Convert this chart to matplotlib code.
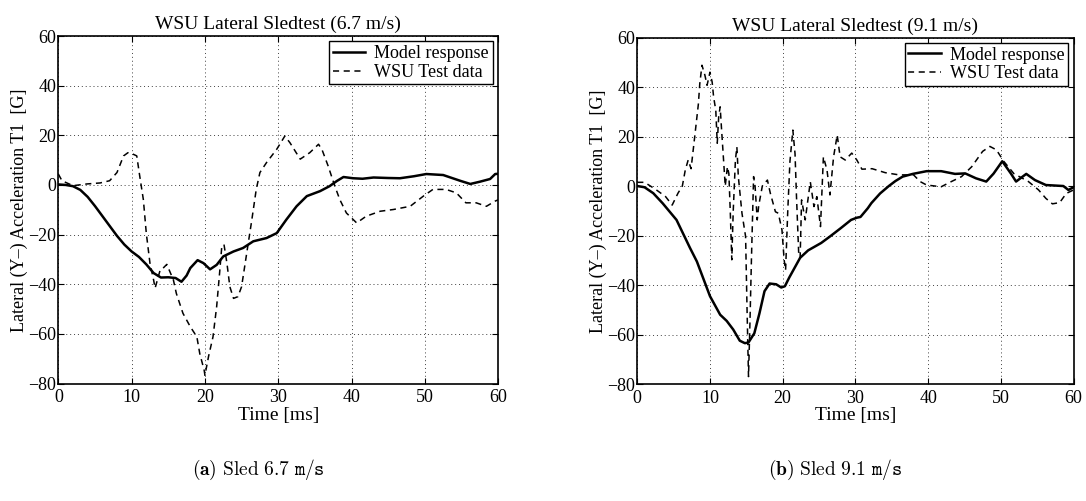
import matplotlib
matplotlib.use("Agg")
import matplotlib.pyplot as plt

# ---------------- data ----------------
t_a_model = [0, 1, 2, 3, 4, 5, 6, 7, 8, 9, 10, 11, 12, 13, 14, 15, 16, 16.8, 17.5, 18, 19,
             19.8, 20.7, 21.6, 22.5, 23.9, 25.2, 26.6, 28.4, 29.8, 31.1, 32.5, 33.9, 35.7,
             37, 38, 38.9, 40.2, 41.5, 43, 45, 46.6, 48.5, 50.2, 52.5, 54.8, 56.2, 57.5,
             58.9, 59.6, 60]
v_a_model = [0.2, 0, -0.5, -2, -4.8, -8.5, -12.5, -16.5, -20.5, -24, -26.8, -29, -32, -35.5,
             -37.3, -37.2, -37.5, -39, -36.5, -33.5, -30.3, -31.5, -34, -32.2, -28.8, -26.8,
             -25.4, -22.7, -21.4, -19.4, -14, -8.6, -4.5, -2.5, -0.5, 1.6, 3.2, 2.7, 2.5, 3,
             2.8, 2.7, 3.5, 4.4, 4, 1.7, 0.4, 1.3, 2.4, 4.4, 4.5]

t_a_test = [0, 0.5, 2, 3.9, 5.7, 7, 8, 8.9, 9.5, 10.2, 10.7, 11.1, 11.6, 12, 12.5, 13, 13.2,
            13.9, 14.3, 14.8, 15.3, 15.7, 16.1, 17, 18, 18.9, 19.3, 19.9, 20, 20.5, 21.1,
            21.6, 22, 22.3, 22.6, 23, 23.4, 23.9, 24.5, 25, 25.7, 26.4, 27, 27.5, 28.4,
            29.8, 30.9, 31.6, 32.3, 33, 34.3, 35.5, 36, 36.8, 37.7, 38.4, 39.3, 40.7, 42,
            43.9, 45.7, 48, 49.8, 51.1, 52.9, 54.3, 55.6, 57, 58.4, 59.6, 60]
v_a_test = [4.4, 1.7, -0.3, 0.4, 0.8, 1.7, 5, 11.7, 13, 12.4, 11.7, 3.7, -5.9, -19.4, -31.5,
            -38.3, -41.6, -34.2, -33.5, -32, -35.5, -38.3, -43.7, -51.7, -57.1, -61.2, -68,
            -74.7, -76.7, -69, -61.2, -49, -35.5, -24.8, -24, -31.5, -41, -45.7, -45, -41,
            -27.5, -14, -1.8, 5, 9, 14.4, 19.7, 17, 13.7, 10.4, 13, 16.4, 14, 7.7, -0.3,
            -5.9, -11.3, -15.3, -12.6, -10.6, -9.9, -8.6, -4.5, -1.8, -1.8, -3.2, -7.2,
            -7.2, -8.6, -6.5, -6]

t_b_model = [0, 1, 2.2, 3.5, 5.4, 7.25, 8.2, 9.1, 10, 11.4, 12.3, 13.2, 14.1, 14.8, 15.3,
             16.1, 16.8, 17.5, 18.2, 19.1, 19.8, 20.3, 20.9, 22.4, 23.5, 25.3, 26.5, 28,
             29.4, 30.2, 30.7, 31.7, 32.2, 33.4, 34.6, 35.5, 36.5, 37.9, 39.8, 41.8, 43.7,
             45.1, 46.6, 48, 49, 50.2, 51.4, 52.1, 53.5, 54.7, 56.2, 58.6, 59.3, 60]
v_b_model = [0, -0.5, -2.9, -7, -13.7, -25, -30.5, -37.5, -44.5, -52, -54.5, -58, -62.5,
             -63.5, -63.2, -59.5, -51.5, -42.5, -39.4, -39.7, -41, -40.5, -37, -29, -26,
             -23, -20.4, -17, -13.7, -12.8, -12.5, -9, -6.9, -3, 0, 2, 3.8, 4.9, 6, 6, 4.9,
             5.1, 3.1, 1.8, 5, 10, 5, 1.8, 4.9, 2.4, 0.4, 0, -1.6, -0.5]

t_b_test = [0, 1, 2.5, 3.9, 4.8, 5.6, 6.2, 6.6, 7.0, 7.4, 7.9, 8.4, 8.6, 8.9, 9.3, 9.6, 10.0,
            10.3, 10.5, 10.8, 11.0, 11.2, 11.4, 11.6, 11.9, 12.1, 12.4, 12.6, 12.8, 13.0,
            13.2, 13.5, 13.7, 13.9, 14.4, 14.9, 15.1, 15.3, 15.5, 15.7, 16.0, 16.2, 16.5,
            16.7, 17.2, 17.9, 18.3, 19.0, 19.4, 19.9, 20.2, 20.4, 20.7, 21.0, 21.4, 21.7,
            21.9, 22.2, 22.4, 22.6, 23.1, 23.8, 24.3, 24.7, 25.2, 25.6, 26.1, 26.5, 27.0,
            27.5, 27.9, 28.6, 29.5, 30.2, 30.9, 32.3, 34.1, 36, 38, 38.9, 39.8, 41.8, 43.2,
            44.6, 46, 47.5, 48.5, 49.4, 50.4, 51.8, 53.8, 55.2, 56.2, 57.1, 58.1, 59, 60]
v_b_test = [1.5, 1.5, -1.3, -4.3, -7.7, -2.9, 0, 6.4, 10.5, 7, 19.9, 33, 41.4, 48.8, 44.8,
            40.7, 46, 42, 36, 30.6, 17.3, 28, 32, 22.6, 9.1, 0, 7.8, 5, -11, -29.8, -10,
            10.5, 15.8, 3.8, -11, -20.4, -50, -77, -55, -30, 3.8, 0, -13.7, -8, 0, 2.4,
            -2.9, -10.4, -11, -17.7, -29.8, -34, -10, 10, 22.6, 13, -4.3, -27, -29, -5.6,
            -13.7, 1.7, -8.3, -4.3, -16.4, 11.8, 6.4, -3.6, 11.8, 20.6, 11.8, 10.5, 13.3,
            10.5, 6.8, 7, 5.4, 4.5, 4.5, 1.8, 0.4, -0.3, 1.8, 3.8, 7.8, 14, 16, 14.6, 10,
            5, 1.8, -1.6, -5, -7.2, -6.7, -3, -1.6]

titles = ["WSU Lateral Sledtest (6.7 m/s)", "WSU Lateral Sledtest (9.1 m/s)"]
captions = [r"$\mathbf{(a)}\ \mathrm{Sled\ 6.7}\ \mathtt{m/s}$",
            r"$\mathbf{(b)}\ \mathrm{Sled\ 9.1}\ \mathtt{m/s}$"]
legend_labels = ["Model response", "WSU Test data"]
xticks = [0, 10, 20, 30, 40, 50, 60]
yticks = [-80, -60, -40, -20, 0, 20, 40, 60]
xlabel = "Time [ms]"
ylabel = "Lateral (Y\u2013) Acceleration T1  [G]"

# ---------------- style ----------------
plt.rcParams['font.family'] = ['Liberation Serif', 'DejaVu Serif']
plt.rcParams['mathtext.fontset'] = 'cm'

fig = plt.figure(figsize=(10.86, 5.01), dpi=100)
ax_rects = [[0.0537, 0.2345, 0.405, 0.6936], [0.5868, 0.2335, 0.4017, 0.6916]]
series = [(t_a_model, v_a_model, t_a_test, v_a_test), (t_b_model, v_b_model, t_b_test, v_b_test)]
cap_x = [0.2376, 0.769]

for i in range(2):
    ax = fig.add_axes(ax_rects[i])
    tm, vm, tt, vt = series[i]
    ax.plot(tm, vm, color='black', lw=1.8, label=legend_labels[0])
    ax.plot(tt, vt, color='black', lw=1.1, linestyle=(0, (4, 3)), label=legend_labels[1])
    ax.set_xlim(0, 60)
    ax.set_ylim(-80, 60)
    ax.set_xticks(xticks)
    ax.set_yticks(yticks)
    ax.grid(True, color='0.25', linestyle=(0, (1, 3)), linewidth=0.7)
    ax.tick_params(direction='in', length=4, width=0.8, labelsize=13, top=True, right=True)
    ax.tick_params(axis='x', pad=4)
    ax.tick_params(axis='y', pad=1.5)
    for s in ax.spines.values():
        s.set_linewidth(1.2)
    ax.set_title(titles[i], fontsize=14, pad=5)
    ax.set_xlabel(xlabel, fontsize=14, labelpad=0.5)
    ax.set_ylabel(ylabel, fontsize=13, labelpad=0)
    leg = ax.legend(loc='upper right', fontsize=13, frameon=True, fancybox=False,
                    edgecolor='black', framealpha=1, borderaxespad=0.3, borderpad=0.2,
                    labelspacing=0.1, handlelength=1.8, handletextpad=0.5)
    leg.get_frame().set_linewidth(1.0)
    fig.text(cap_x[i], 0.062, captions[i], ha='center', va='center', fontsize=14)

fig.savefig("out.png", dpi=100)
